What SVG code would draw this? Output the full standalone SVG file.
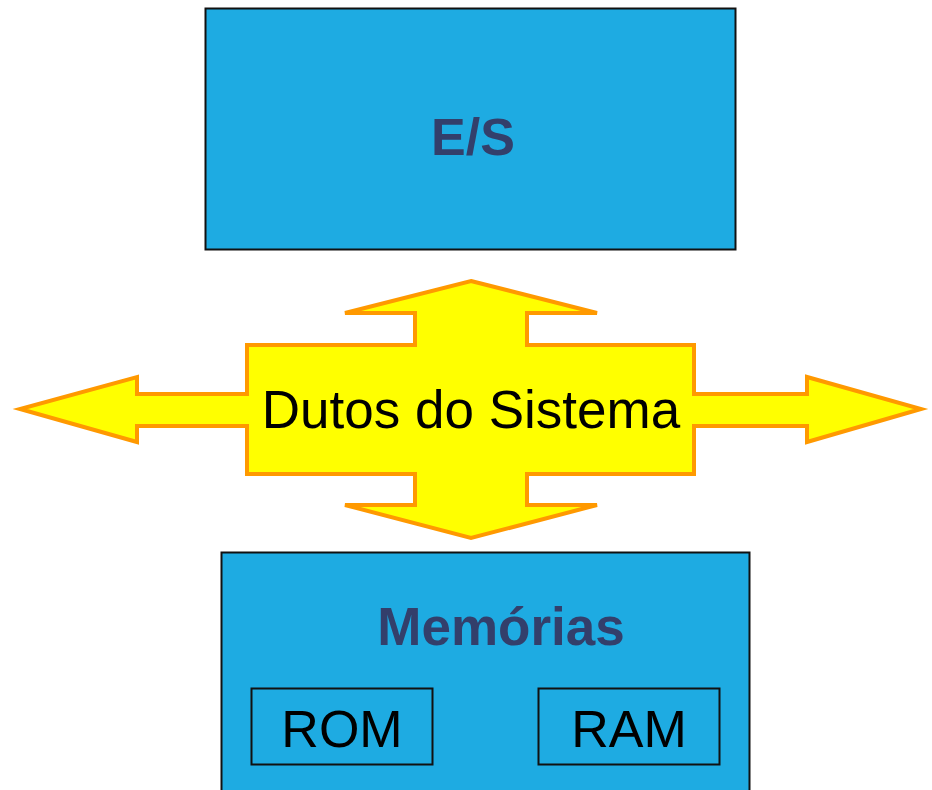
<svg xmlns="http://www.w3.org/2000/svg" width="932" height="790" viewBox="0 0 932 790">
  <style>
    .box { fill: #1EABE2; stroke: #111111; stroke-width: 2; }
    .sub { fill: none; stroke: #111111; stroke-width: 2; }
    .title { font-family: "Liberation Sans", Arial, sans-serif; font-weight: bold; fill: #333F6B; text-anchor: middle; }
    .plain { font-family: "Liberation Sans", Arial, sans-serif; fill: #000000; text-anchor: middle; }
    .bus { fill: #FFFF00; stroke: #FF9900; stroke-width: 4; stroke-linejoin: miter; }
  </style>
  <rect width="932" height="790" fill="#FFFFFF"/>

  <g id="es">
    <rect class="box" x="205.5" y="8.5" width="530" height="241"/>
    <text class="title" x="473" y="155" font-size="52">E/S</text>
  </g>

  <g id="connectors">
    <!-- four-way bus arrow -->
    <path class="bus" d="M471,281 L597,313 L527,313 L527,345 L694,345 L694,394 L807,394 L807,377 L921,409 L807,442 L807,426 L694,426 L694,474 L527,474 L527,505 L597,505 L471,538 L345,505 L415,505 L415,474 L247,474 L247,426 L137,426 L137,442 L20,409 L137,377 L137,394 L247,394 L247,345 L415,345 L415,313 L345,313 Z"/>
  </g>

  <g id="dutos">
    <text class="plain" x="471" y="428" font-size="53">Dutos do Sistema</text>
  </g>

  <g id="memorias">
    <rect class="box" x="221.5" y="552.5" width="528" height="250"/>
    <text class="title" x="501" y="645" font-size="53">Memórias</text>
    <g id="rom">
      <rect class="sub" x="251.5" y="688.5" width="181" height="76"/>
      <text class="plain" x="342" y="747" font-size="52">ROM</text>
    </g>
    <g id="ram">
      <rect class="sub" x="538.5" y="688.5" width="181" height="76"/>
      <text class="plain" x="629" y="747" font-size="52">RAM</text>
    </g>
  </g>
</svg>
